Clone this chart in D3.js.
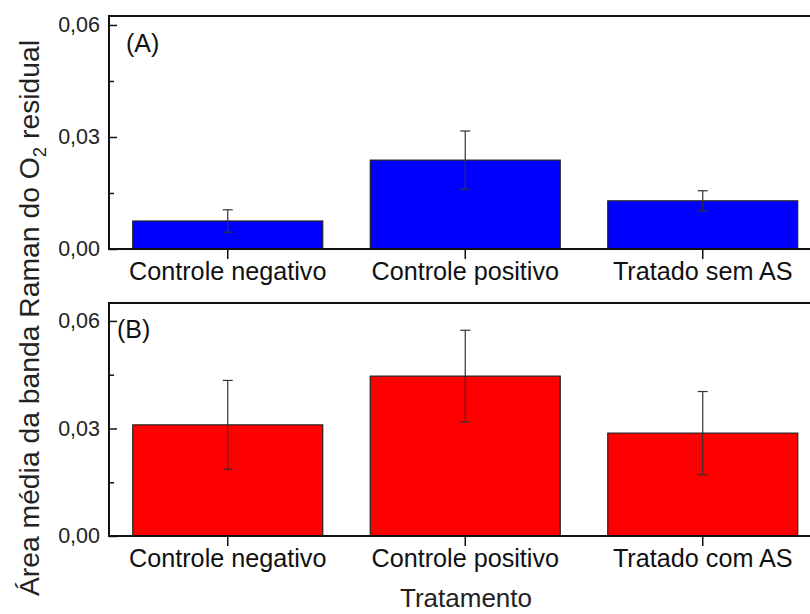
<!DOCTYPE html>
<html><head><meta charset="utf-8">
<script src="https://cdn.jsdelivr.net/npm/d3@7"></script>
<style>body{margin:0;background:#fff}svg{display:block}text{font-family:"Liberation Sans",Arial,sans-serif}</style>
</head><body><svg id="c" width="810" height="614"></svg>
<script>
const categoriesA = ["Controle negativo","Controle positivo","Tratado sem AS"];
const categoriesB = ["Controle negativo","Controle positivo","Tratado com AS"];
const valuesA = [0.0075, 0.0238, 0.0129];
const errorsA = [0.0030, 0.0078, 0.0027];
const valuesB = [0.0310, 0.0446, 0.0287];
const errorsB = [0.0124, 0.0128, 0.0116];
const yTicks = [0, 0.03, 0.06];
const yMinorTicks = [0.015, 0.045];
const panelLabels = ["(A)","(B)"];
const yTitle = ["Área média da banda Raman do O","2"," residual"];
const xTitle = "Tratamento";

const svg = d3.select("#c");
const left = 109, right = 821.5;
const fmt = d => d3.format(".2f")(d).replace(".", ",");

function panel(cats, vals, errs, color, top, bottom, ymax) {
  const g = svg.append("g");
  const x = d3.scaleBand().domain(cats).range([left, right]).paddingInner(0.2).paddingOuter(0.1);
  const y = d3.scaleLinear().domain([0, ymax]).range([bottom, top]);
  g.selectAll("rect.bar").data(vals).join("rect")
    .attr("x", (d,i) => x(cats[i])).attr("width", x.bandwidth())
    .attr("y", d => y(d)).attr("height", d => y(0) - y(d))
    .attr("fill", color).attr("stroke", "#222").attr("stroke-width", 1.2);
  const eb = g.selectAll("g.eb").data(vals).join("g").attr("stroke", "#333").attr("stroke-width", 1.2);
  eb.append("line")
    .attr("x1", (d,i) => x(cats[i]) + x.bandwidth()/2).attr("x2", (d,i) => x(cats[i]) + x.bandwidth()/2)
    .attr("y1", (d,i) => y(d + errs[i])).attr("y2", (d,i) => y(d - errs[i]));
  [1,-1].forEach(s => {
    eb.append("line")
      .attr("x1", (d,i) => x(cats[i]) + x.bandwidth()/2 - 5).attr("x2", (d,i) => x(cats[i]) + x.bandwidth()/2 + 5)
      .attr("y1", (d,i) => y(d + s*errs[i])).attr("y2", (d,i) => y(d + s*errs[i]));
  });
  g.append("rect").attr("x", left).attr("y", top).attr("width", right - left).attr("height", bottom - top)
    .attr("fill", "none").attr("stroke", "#111").attr("stroke-width", 2);
  const ya = g.append("g").attr("transform", `translate(${left},0)`)
    .call(d3.axisLeft(y).tickValues(yTicks).tickSize(-8).tickPadding(9).tickFormat(fmt));
  ya.select(".domain").remove();
  ya.selectAll("line").attr("stroke", "#111").attr("stroke-width", 1.5);
  ya.selectAll("text").attr("font-size", 21.5).attr("fill", "#222").attr("font-family", "Liberation Sans, Arial, sans-serif");
  const ym = g.append("g").attr("transform", `translate(${left},0)`)
    .call(d3.axisLeft(y).tickValues(yMinorTicks).tickSize(-5).tickFormat(""));
  ym.select(".domain").remove();
  ym.selectAll("line").attr("stroke", "#111").attr("stroke-width", 1.5);
  const xa = g.append("g").attr("transform", `translate(0,${bottom})`)
    .call(d3.axisBottom(x).tickSize(10).tickPadding(3));
  xa.select(".domain").remove();
  xa.selectAll("line").attr("stroke", "#111").attr("stroke-width", 1.5);
  xa.selectAll("text").attr("font-size", 25.2).attr("fill", "#111").attr("font-family", "Liberation Sans, Arial, sans-serif");
  return {x, y, g};
}

panel(categoriesA, valuesA, errorsA, "#0000ff", 16, 249, 0.0624);
panel(categoriesB, valuesB, errorsB, "#ff0000", 303, 536, 0.065);

svg.append("text").attr("x", 126).attr("y", 52).attr("font-size", 25).attr("fill", "#111").text(panelLabels[0]);
svg.append("text").attr("x", 117).attr("y", 338).attr("font-size", 25).attr("fill", "#111").text(panelLabels[1]);

const yt = svg.append("text").attr("transform", "translate(39,318) rotate(-90)")
  .attr("text-anchor", "middle").attr("font-size", 28.3).attr("fill", "#222");
yt.append("tspan").text(yTitle[0]);
yt.append("tspan").attr("dy", 7).attr("font-size", 18.5).text(yTitle[1]);
yt.append("tspan").attr("dy", -7).text(yTitle[2]);

svg.append("text").attr("x", 466).attr("y", 607).attr("text-anchor", "middle")
  .attr("font-size", 26).attr("fill", "#222").text(xTitle);
</script></body></html>
